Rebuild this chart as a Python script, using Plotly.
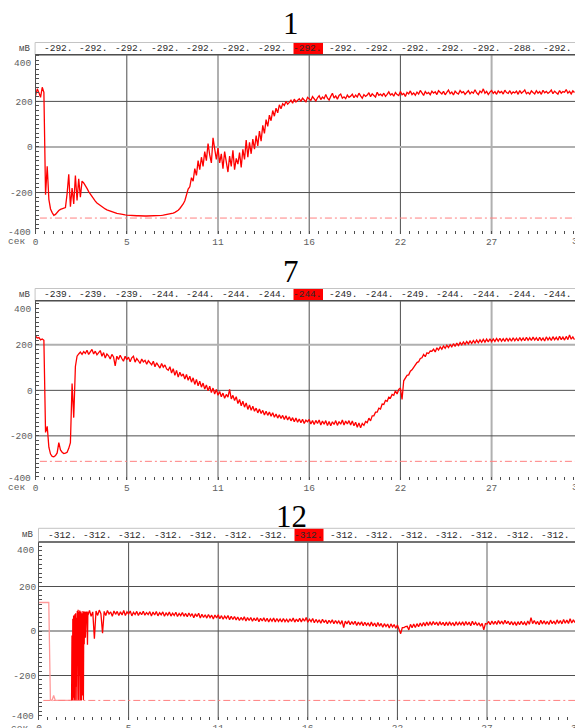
import plotly.graph_objects as go

W, H = 575, 728
DT = 0.1

# ---------------- data (mV), sampled every 0.1 s ----------------
p1_mv = [
    225, 255, 238, 218, 262, 240, -210, -85, -230, -272,
    -288, -300, -296, -286, -279, -274, -271, -269, -266, -205,
    -120, -262, -180, -250, -125, -235, -140, -220, -150, -158,
    -168, -182, -196, -208, -219, -229, -238, -246, -252, -258,
    -263, -268, -272, -276, -279, -282, -285, -287, -289, -291,
    -293, -295, -296, -297, -298, -299, -300, -300, -301, -301,
    -302, -302, -302, -303, -303, -303, -303, -303, -303, -303,
    -303, -303, -302, -302, -302, -301, -300, -299, -298, -297,
    -295, -294, -292, -290, -287, -283, -278, -270, -262, -250,
    -236, -215, -185, -175, -135, -150, -95, -125, -60, -100,
    -45, -85, -20, -60, 15, -35, -70, 40, -10, -55,
    -5, -70, -30, -95, -20, -60, -110, -40, -85, -15,
    -100, -50, -75, -25, -90, -10, -55, 30, -45, 20,
    -30, 35, -10, 50, 5, 70, 25, 95, 60, 120,
    90, 140, 115, 160, 135, 170, 150, 185, 168, 190,
    182, 200, 188, 196, 205, 192, 210, 198, 204, 212,
    200, 214, 206, 198, 218, 209, 204, 221, 210, 202,
    216, 225, 208, 219, 212, 230, 214, 206, 222, 236,
    215, 224, 210, 226, 232, 214, 220, 212, 228, 218,
    223, 232, 216, 228, 219, 236, 224, 214, 230, 222,
    228, 238, 221, 233, 226, 219, 240, 227, 232, 224,
    236, 222, 231, 242, 228, 234, 223, 239, 230, 226,
    244, 229, 235, 222, 240, 233, 246, 230, 237, 227,
    241, 232, 248, 236, 226, 243, 234, 239, 229, 245,
    236, 242, 230, 247, 238, 233, 244, 229, 240, 250,
    234, 241, 228, 245, 237, 232, 248, 238, 243, 231,
    239, 247, 233, 242, 236, 251, 237, 230, 245, 238,
    255, 236, 244, 230, 241, 248, 235, 243, 231, 246,
    238, 244, 232, 249, 239, 235, 247, 233, 242, 237,
    245, 231, 248, 236, 242, 250, 234, 240, 232, 246,
    239, 233, 247, 236, 243, 231, 249, 238, 244, 235,
    241, 250, 234, 245, 238, 232, 248, 236, 243, 240,
    252, 236, 244, 233, 246, 239,
]

p2_mv = [
    238, 230, 232, 222, 226, 220, -185, -158, -250, -280,
    -290, -292, -287, -275, -230, -262, -272, -278, -276, -272,
    -255, -230, 30, -120, 105, 150, 160, 168, 158, 170,
    162, 176, 158, 170, 180, 160, 172, 156, 168, 175,
    150, 166, 142, 160, 152, 138, 158, 147, 108, 150,
    136, 154, 140, 128, 150, 135, 146, 126, 143, 150,
    124, 140, 130, 118, 138, 125, 132, 115, 130, 122,
    112, 128, 104, 121, 110, 98, 118, 102, 112, 94,
    88, 104, 76, 95, 66, 88, 58, 80, 62, 72,
    50, 70, 44, 62, 36, 55, 26, 48, 20, 40,
    14, 32, 6, 24, -2, 18, -10, 10, -16, 4,
    -22, -5, -28, -12, -35, -18, -30, 4, -38, -22,
    -45, -28, -58, -40, -68, -48, -74, -55, -84, -64,
    -88, -70, -92, -78, -99, -82, -102, -88, -108, -92,
    -110, -95, -114, -98, -118, -104, -122, -107, -124, -110,
    -128, -112, -130, -116, -134, -120, -138, -122, -140, -126,
    -142, -127, -146, -131, -138, -128, -148, -133, -150, -132,
    -146, -130, -152, -135, -149, -133, -155, -137, -156, -138,
    -150, -133, -154, -137, -149, -130, -152, -135, -148, -133,
    -152, -135, -156, -140, -162, -143, -164, -146, -154, -137,
    -142, -122, -134, -112, -112, -96, -96, -78, -82, -60,
    -62, -44, -48, -30, -34, -18, -22, -2, -16, 4,
    10, -40, 42, 52, 66, 68, 84, 90, 102, 108,
    122, 126, 140, 143, 158, 148, 165, 162, 173, 172,
    181, 169, 187, 177, 191, 181, 195, 185, 198, 188,
    201, 191, 205, 193, 208, 197, 210, 200, 213, 202,
    215, 204, 217, 206, 219, 208, 221, 209, 222, 211,
    224, 212, 225, 213, 227, 214, 226, 215, 228, 216,
    229, 216, 227, 215, 230, 217, 228, 216, 231, 218,
    229, 217, 232, 219, 230, 218, 233, 220, 231, 219,
    234, 221, 231, 218, 233, 220, 230, 217, 235, 221,
    232, 219, 236, 222, 233, 220, 238, 223, 234, 221,
    237, 223, 243, 225, 235, 223,
]

# panel 12: pre-trigger part (0-2 s, step 0.1), burst (2-3 s, step 0.025), rest (from 3 s, step 0.1)
p3_pre_mv = [128, 128, 128, 128, 128, 128, 128, -310, -312, -290,
             -312, -312, -312, -312, -312, -312, -312, -312, -312, -312, -312]
p3_burst_mv = [-312, -20, -312, 55, -300, 70, -312, -150, 75, -312,
               80, -250, 60, -312, 90, -100, 95, -312, 85, -200,
               92, -312, 70, 88, -312, 80, -290, 75, 90, -310,
               85, -60, 78, 88, -30, 80, 85, 80, 88, -62, 84]
p3_main_mv = [
    72, 92, 66, 86, -35, 90, 70, 94, 78, -10,
    88, 70, 92, 76, 86, 66, 90, 75, 88, 70,
    86, 72, 92, 70, 86, 76, 90, 68, 84, 74,
    88, 70, 85, 73, 89, 71, 83, 74, 87, 67,
    85, 72, 88, 68, 82, 73, 86, 66, 81, 71,
    85, 67, 80, 70, 84, 65, 79, 69, 83, 66,
    79, 64, 81, 67, 78, 60, 77, 65, 80, 58,
    75, 61, 73, 58, 74, 60, 71, 54, 72, 59,
    73, 55, 69, 53, 67, 56, 70, 51, 66, 52,
    65, 50, 63, 47, 61, 49, 64, 45, 60, 47,
    61, 44, 58, 46, 60, 42, 57, 45, 59, 43,
    57, 41, 55, 44, 58, 40, 56, 43, 54, 41,
    56, 42, 53, 39, 55, 43, 58, 40, 54, 42,
    57, 41, 55, 44, 61, 39, 53, 42, 56, 37,
    52, 39, 50, 35, 53, 38, 49, 33, 48, 37,
    50, 33, 47, 35, 45, 30, 47, 15, 44, 32,
    46, 28, 42, 30, 44, 25, 40, 28, 41, 24,
    39, 26, 37, 21, 40, 23, 36, 19, 38, 22,
    34, 17, 33, 20, 31, 13, 32, 18, 29, 12,
    27, 10, -12, 15, 15, 20, 21, 5, 30, 15,
    31, 16, 33, 19, 36, 21, 38, 23, 40, 25,
    41, 26, 43, 28, 40, 25, 42, 27, 39, 24,
    40, 25, 41, 27, 38, 23, 42, 26, 39, 28,
    41, 25, 43, 27, 40, 24, 44, 28, 39, 25,
    37, 22, 34, 5, 33, 31, 43, 28, 45, 30,
    44, 29, 47, 32, 45, 30, 48, 33, 44, 28,
    43, 27, 41, 25, 42, 28, 44, 29, 40, 26,
    45, 30, 60, 33, 47, 31, 43, 28, 48, 32,
    46, 31, 43, 29, 49, 33, 45, 30, 50, 34,
    47, 32, 52, 35, 49, 34, 55, 36, 50, 38,
]

threshold_mv = -312

strip1 = ["-292."] * 13 + ["-288.", "-292."]
strip2 = ["-239.", "-239.", "-239.", "-244.", "-244.", "-244.", "-244.", "-244.",
          "-249.", "-244.", "-249.", "-244.", "-244.", "-244.", "-244."]
strip3 = ["-312."] * 15
highlight_index = 7

titles = ["1", "7", "12"]
x_tickvals = [0, 5.5, 11, 16.5, 22, 27.5]
x_ticktext = ["0", "5", "11", "16", "22", "27"]
x_last_label = "33"
x_last_val = 33
y_grid = [-200, 0, 200]
y_ticktext_edges = ("400", "-400")

# ---------------- geometry (pixels) ----------------
panels = [
    dict(title=titles[0], strip=strip1, left=35.6, top=54.7, bottom=234.0, yr=(-382, 405), xr=(0, 32.53),
         title_y=24, strip_top=42.5, sx0=58.0, sdx=35.7, hl=(293.5, 323.0),
         light_x=[11, 27.5], light_y=[0], ylab_bottom_shift=1),
    dict(title=titles[1], strip=strip2, left=35.6, top=300.7, bottom=480.0, yr=(-394, 394), xr=(0, 32.53),
         title_y=271, strip_top=288.5, sx0=58.0, sdx=35.7, hl=(293.5, 323.0),
         light_x=[11, 27.5], light_y=[200], ylab_bottom_shift=2),
    dict(title=titles[2], strip=strip3, left=39.0, top=542.0, bottom=720.0, yr=(-400, 400), xr=(0, 32.9),
         title_y=516, strip_top=528.3, sx0=62.4, sdx=35.2, hl=(294.5, 323.5),
         light_x=[27.5], light_y=[], ylab_bottom_shift=4),
]

GRID_DARK = "#4e4e4e"
GRID_LIGHT = "#b0b0b0"
LABEL_GRAY = "#606060"
MONO = "Liberation Mono, DejaVu Sans Mono, monospace"
RED = "#ff0000"
PINK = "#ff9a9a"


def px(x):
    return x / W


def py(y):
    return 1 - y / H


fig = go.Figure()
shapes = []
annotations = []

series = [
    [(p1_mv, 0.0, DT, RED)],
    [(p2_mv, 0.0, DT, RED)],
    [(p3_pre_mv, 0.0, DT, PINK), (p3_burst_mv, 2.0, 0.025, RED), (p3_main_mv, 3.0, DT, RED)],
]

for i, p in enumerate(panels):
    n = "" if i == 0 else str(i + 1)
    xa, ya = "x" + n, "y" + n
    xdom = [px(p["left"]), 1.0]
    ydom = [py(p["bottom"]), py(p["top"])]

    fig.update_layout(**{
        "xaxis" + n: dict(
            domain=xdom, range=list(p["xr"]), anchor=ya, showgrid=False, zeroline=False,
            showline=False, tickmode="array", tickvals=x_tickvals, ticktext=x_ticktext,
            ticks="inside", ticklen=3, tickcolor=GRID_DARK, automargin=False,
            tickfont=dict(family=MONO, size=9.5, color=LABEL_GRAY),
            minor=dict(tickmode="linear", tick0=0, dtick=0.55, ticks="inside", ticklen=3,
                       tickcolor=GRID_DARK, showgrid=False),
            fixedrange=True,
        ),
        "yaxis" + n: dict(
            domain=ydom, range=list(p["yr"]), anchor=xa, showgrid=False, zeroline=False,
            showline=True, linecolor=GRID_DARK, linewidth=1, automargin=False,
            tickmode="array", tickvals=y_grid, ticktext=[str(v) for v in y_grid],
            ticks="inside", ticklen=3, tickcolor=GRID_DARK,
            tickfont=dict(family=MONO, size=9.5, color=LABEL_GRAY),
            minor=dict(tickmode="linear", tick0=0, dtick=20, ticks="inside", ticklen=3,
                       tickcolor=GRID_DARK, showgrid=False),
            fixedrange=True,
        ),
    })

    # grid lines
    for v in x_tickvals[1:]:
        light = v in p["light_x"]
        shapes.append(dict(type="line", xref=xa, yref=ya + " domain", x0=v, x1=v, y0=0, y1=1,
                           line=dict(color=GRID_LIGHT if light else GRID_DARK, width=2 if light else 1),
                           layer="below"))
    for v in y_grid:
        light = v in p["light_y"]
        shapes.append(dict(type="line", xref=xa + " domain", yref=ya, x0=0, x1=1, y0=v, y1=v,
                           line=dict(color=GRID_LIGHT if light else GRID_DARK, width=2 if light else 1),
                           layer="below"))
    # threshold dash-dot line
    shapes.append(dict(type="line", xref=xa + " domain", yref=ya, x0=0.008, x1=1, y0=threshold_mv, y1=threshold_mv,
                       line=dict(color="#ff8080", width=1, dash="7px,3px,2px,3px"), layer="above"))

    # value strip
    shapes.append(dict(type="rect", xref="paper", yref="paper",
                       x0=px(p["left"] - 0.5), x1=1.01, y0=py(p["top"]), y1=py(p["strip_top"]),
                       line=dict(color="#c4c4c4", width=1), fillcolor="white", layer="above"))
    shapes.append(dict(type="rect", xref="paper", yref="paper",
                       x0=px(p["hl"][0]), x1=px(p["hl"][1]), y0=py(p["top"] - 0.5), y1=py(p["strip_top"] + 0.5),
                       line=dict(width=0), fillcolor="#ff0000", layer="above"))
    shapes.append(dict(type="line", xref="paper", yref="paper",
                       x0=px(p["left"] - 0.5), x1=1.01, y0=py(p["top"]), y1=py(p["top"]),
                       line=dict(color=GRID_DARK, width=1.5), layer="above"))
    mid = (p["top"] + p["strip_top"]) / 2
    for k, s in enumerate(p["strip"]):
        annotations.append(dict(text=s, xref="paper", yref="paper", x=px(p["sx0"] + k * p["sdx"]), y=py(mid),
                                xanchor="center", yanchor="middle", showarrow=False,
                                font=dict(family=MONO, size=9.5, color="#2a2a2a")))
    # unit labels
    annotations.append(dict(text="мВ", xref="paper", yref="paper", x=px(p["left"] - 4), y=py(mid),
                            xanchor="right", yanchor="middle", showarrow=False,
                            font=dict(family=MONO, size=9, color="#444444")))
    annotations.append(dict(text="сек", xref="paper", yref="paper", x=px(p["left"] - 9), y=py(p["bottom"] + 8),
                            xanchor="right", yanchor="middle", showarrow=False,
                            font=dict(family=MONO, size=9.5, color=LABEL_GRAY)))
    # edge y labels
    annotations.append(dict(text=y_ticktext_edges[0], xref="paper", yref="paper", x=px(p["left"] - 3),
                            y=py(p["top"] + 1), xanchor="right", yanchor="top", showarrow=False,
                            font=dict(family=MONO, size=9.5, color=LABEL_GRAY)))
    annotations.append(dict(text=y_ticktext_edges[1], xref="paper", yref="paper", x=px(p["left"] - 3),
                            y=py(p["bottom"] - p["ylab_bottom_shift"]), xanchor="right", yanchor="middle",
                            showarrow=False, font=dict(family=MONO, size=9.5, color=LABEL_GRAY)))
    # last x label (cut by the frame edge)
    xpix = p["left"] + (W - p["left"]) * x_last_val / p["xr"][1]
    annotations.append(dict(text=x_last_label, xref="paper", yref="paper", x=px(min(xpix, W + 3)),
                            y=py(p["bottom"] + 8), xanchor="center", yanchor="middle", showarrow=False,
                            font=dict(family=MONO, size=9.5, color=LABEL_GRAY)))
    # title
    annotations.append(dict(text=p["title"], xref="paper", yref="paper", x=px(291), y=py(p["title_y"]),
                            xanchor="center", yanchor="middle", showarrow=False,
                            font=dict(family="Liberation Serif, Times New Roman, serif", size=31, color="black")))

    for vals, x0, dx, col in series[i]:
        fig.add_trace(go.Scatter(y=vals, x0=x0, dx=dx, mode="lines", xaxis=xa, yaxis=ya,
                                 line=dict(color=col, width=1.3), hoverinfo="skip", showlegend=False))

fig.update_layout(
    width=W, height=H, margin=dict(l=0, r=0, t=0, b=0, pad=0, autoexpand=False),
    paper_bgcolor="white", plot_bgcolor="white",
    shapes=shapes, annotations=annotations, showlegend=False,
)

fig.write_html(
    "out.html",
    config={"displayModeBar": False, "responsive": False},
    post_script="document.body.style.margin='0';document.body.style.overflow='hidden';",
)
